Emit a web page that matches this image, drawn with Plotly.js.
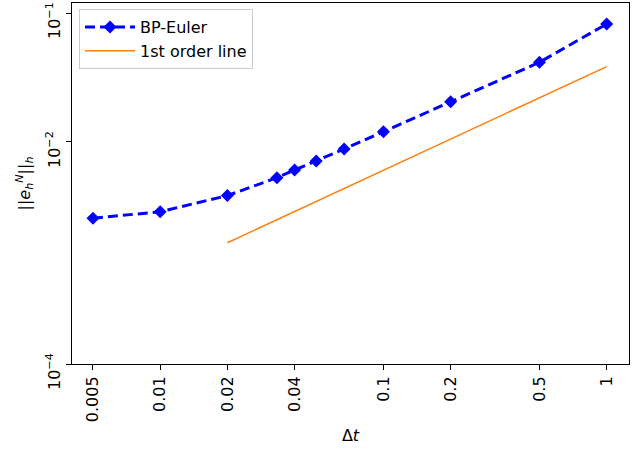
<!DOCTYPE html>
<html>
<head>
<meta charset="utf-8">
<script src="https://cdn.plot.ly/plotly-3.0.1.min.js"></script>
<style>body{margin:0;padding:0;background:#fff}#chart{width:642px;height:450px}</style>
</head>
<body>
<div id="chart"></div>
<script>
// Data
const dt = [0.005, 0.01, 0.02, 1/30, 0.04, 0.05, 1/15, 0.1, 0.2, 0.5, 1];
const err = [2.565e-3, 2.88e-3, 3.84e-3, 5.29e-3, 6.07e-3, 7.13e-3, 8.83e-3, 1.202e-2, 2.05e-2, 4.15e-2, 8.22e-2];
const refX = [0.02, 1];
const refY = [1.655e-3, 3.84e-2];
const xTickVals = [0.005, 0.01, 0.02, 0.04, 0.1, 0.2, 0.5, 1];
const xTickText = ['0.005', '0.01', '0.02', '0.04', '0.1', '0.2', '0.5', '1'];
const yTickVals = [Math.pow(10, -3.721), 1e-2, 1e-1];
const yTickText = ['10<sup>−4</sup>', '10<sup>−2</sup>', '10<sup>−1</sup>'];

const FONT = 'DejaVu Sans, sans-serif';

const traces = [
  {
    x: dt, y: err, name: 'BP-Euler', mode: 'lines+markers', type: 'scatter',
    line: {color: '#0000ff', width: 3, dash: '10px,5px'},
    marker: {symbol: 'diamond', size: 10, color: '#0000ff'}
  },
  {
    x: refX, y: refY, name: '1st order line', mode: 'lines', type: 'scatter',
    line: {color: '#ff7f0e', width: 1.5}
  }
];

const layout = {
  width: 642, height: 450,
  margin: {l: 72, r: 13, t: 3, b: 86},
  paper_bgcolor: '#fff', plot_bgcolor: '#fff',
  font: {family: FONT, size: 16, color: '#000'},
  showlegend: true,
  legend: {
    x: 0.0126, y: 0.983, xanchor: 'left', yanchor: 'top',
    bgcolor: 'rgba(255,255,255,0.8)', bordercolor: '#cccccc', borderwidth: 1,
    font: {family: FONT, size: 16}, tracegroupgap: 0, itemwidth: 50
  },
  xaxis: {
    type: 'log', range: [-2.395, 0.100],
    tickmode: 'array', tickvals: xTickVals, ticktext: xTickText,
    tickangle: -90, ticks: 'outside', ticklen: 5, tickwidth: 1, tickcolor: '#000',
    showgrid: false, zeroline: false,
    showline: true, linecolor: '#000', linewidth: 1, mirror: true,
    tickfont: {family: FONT, size: 16},
    title: {text: 'Δ<i>t</i>', font: {family: FONT, size: 16}, standoff: 8}
  },
  yaxis: {
    type: 'log', range: [-3.721, -0.9225],
    tickmode: 'array', tickvals: yTickVals, ticktext: yTickText,
    tickangle: -90, ticks: 'outside', ticklen: 5, tickwidth: 1, tickcolor: '#000',
    ticklabeloverflow: 'allow', ticklabelshift: 10,
    showgrid: false, zeroline: false,
    showline: true, linecolor: '#000', linewidth: 1, mirror: true,
    tickfont: {family: FONT, size: 16},
    title: {text: '||<i>e</i><sub><i>h</i></sub><sup><i>N</i></sup>||<sub><i>h</i></sub>', font: {family: FONT, size: 16}, standoff: 8}
  }
};

Plotly.newPlot('chart', traces, layout, {displayModeBar: false, staticPlot: true});
</script>
</body>
</html>
